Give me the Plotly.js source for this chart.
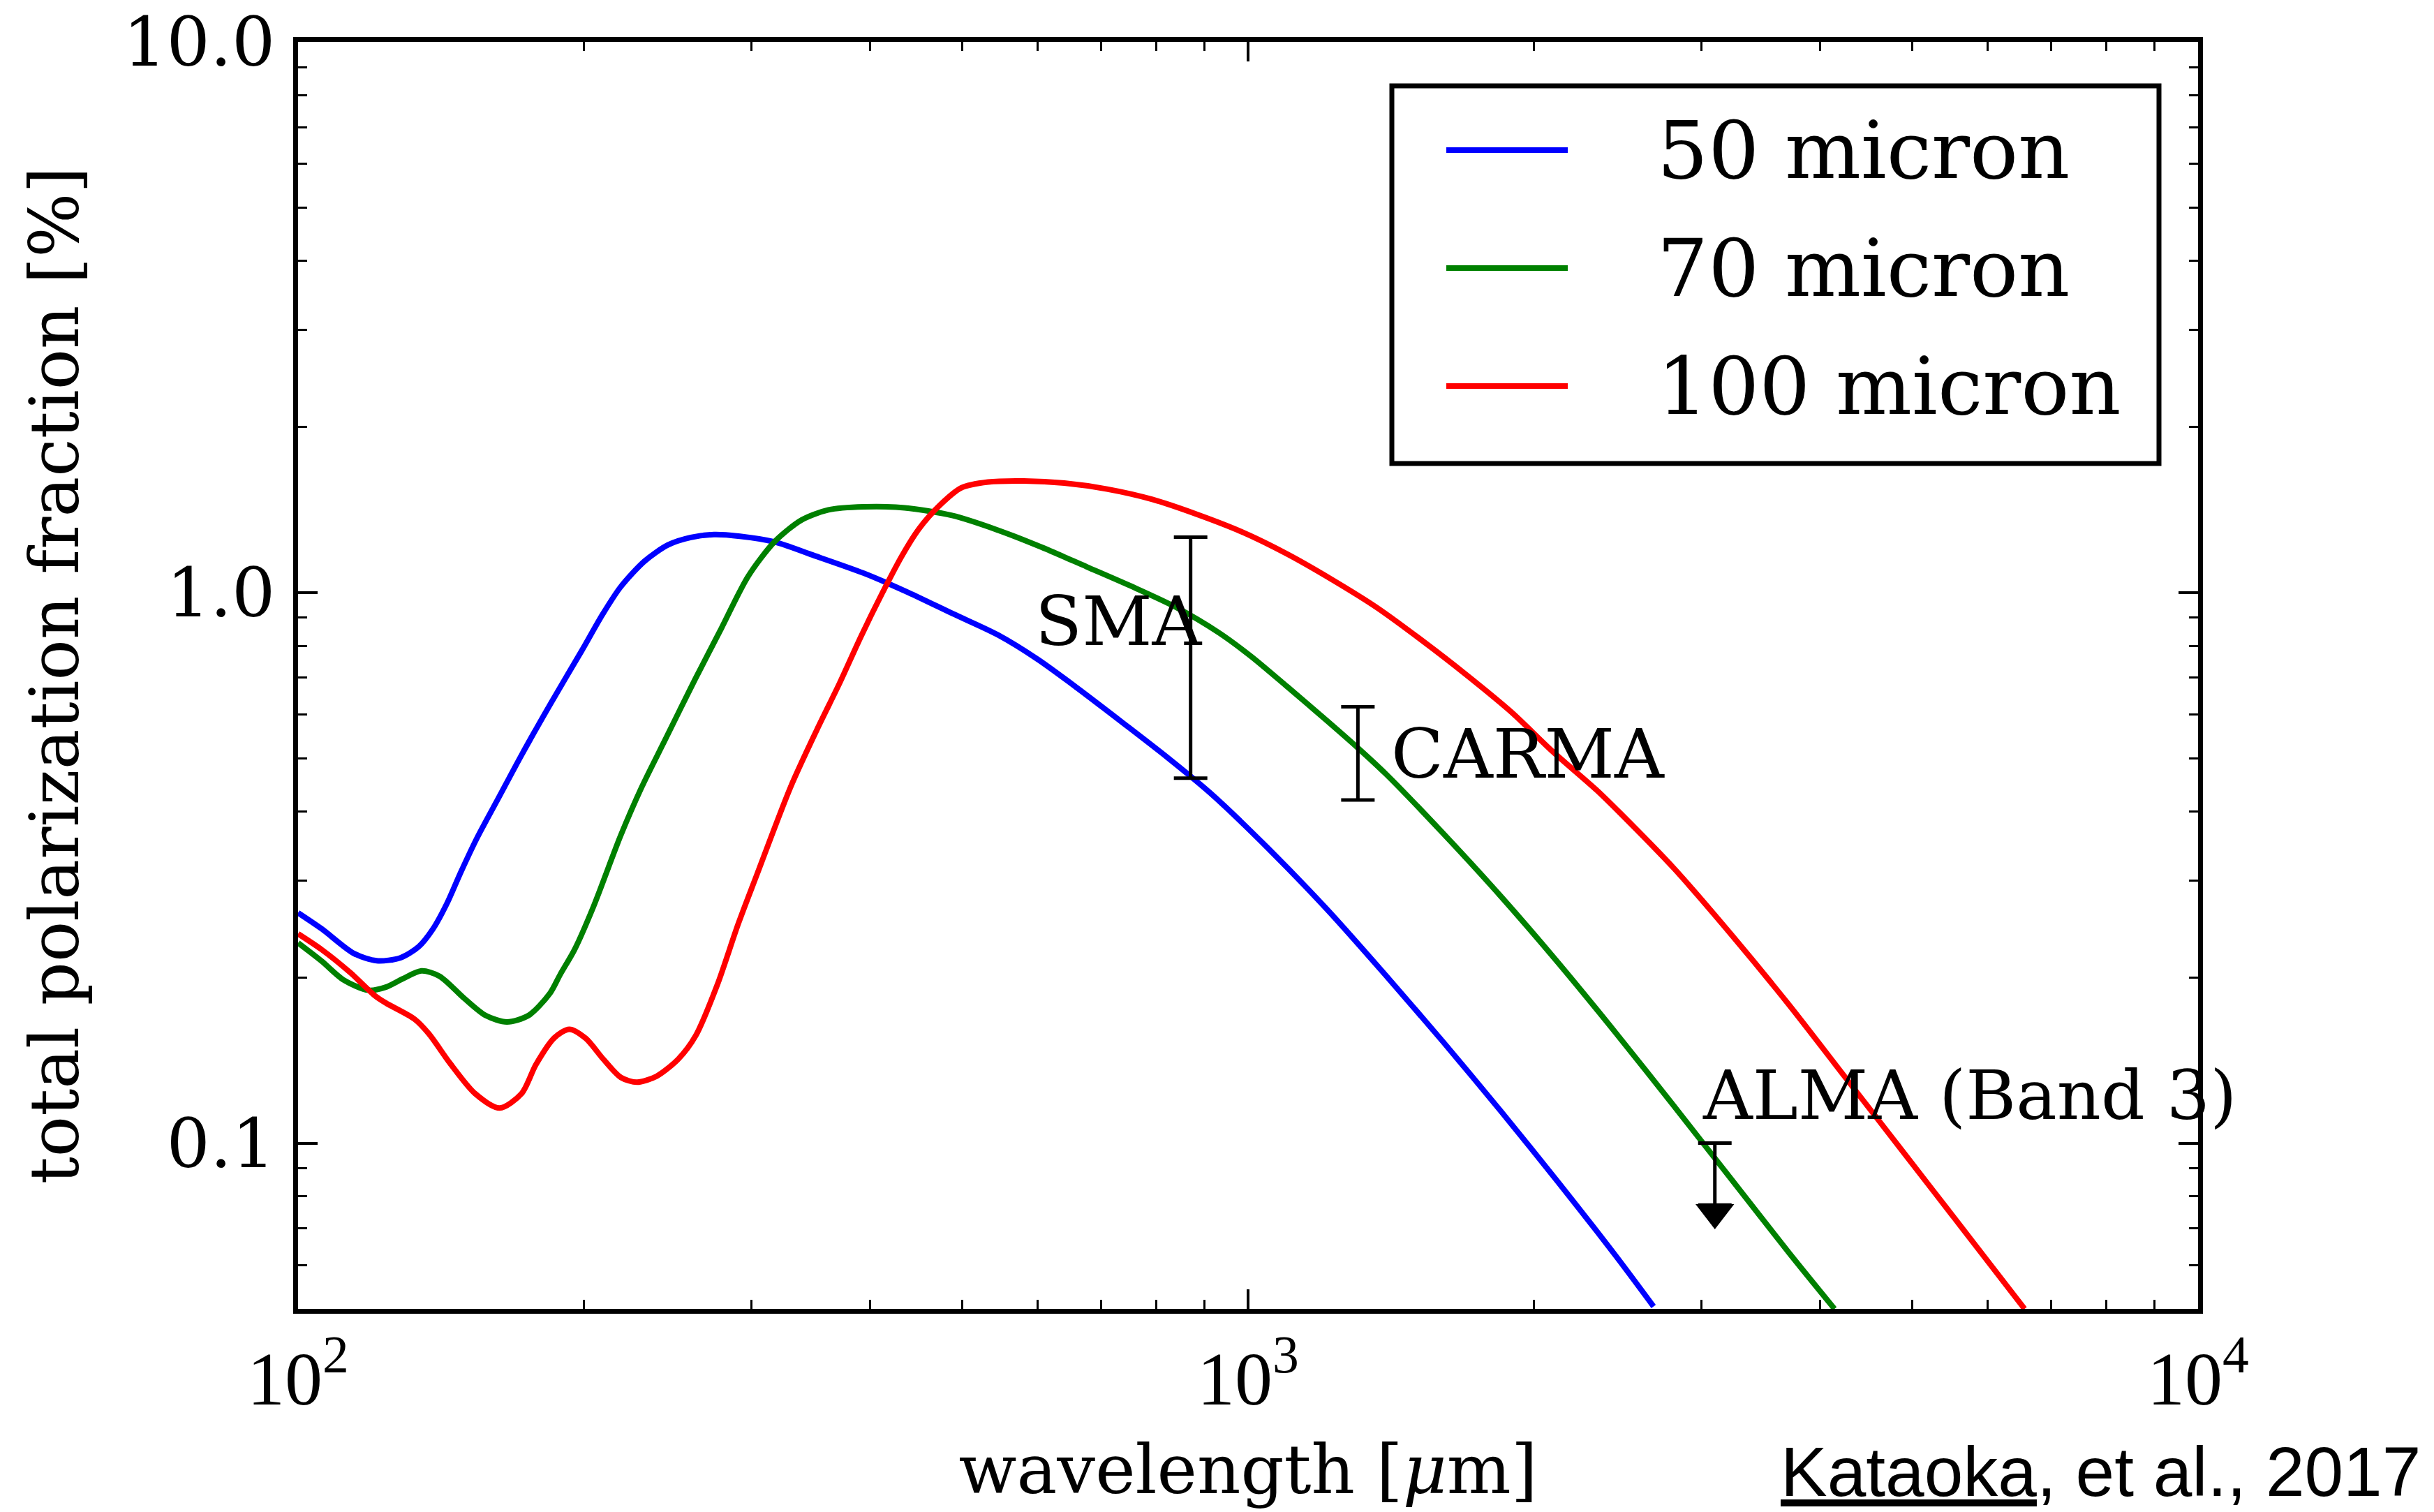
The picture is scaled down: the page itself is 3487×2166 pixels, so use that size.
<!DOCTYPE html>
<html>
<head>
<meta charset="utf-8">
<script src="https://cdn.plot.ly/plotly-3.0.1.min.js"></script>
<style>
  html, body { margin: 0; padding: 0; background: #ffffff; }
  #chart { width: 3487px; height: 2166px; }
</style>
</head>
<body>
<div id="chart"></div>
<script>
// Model curves: total polarization fraction [%] versus wavelength [um]
// for three maximum grain sizes.
const seriesNames = ['50 micron', '70 micron', '100 micron'];
const seriesColors = ['#0000ff', '#008000', '#ff0000'];

const wl50 = [100, 105.9, 114.5, 121, 128.1, 134, 138.6, 143.4, 148.3, 154.2, 162.4, 171.7, 184.9,
  198.9, 209.4, 218.6, 231.6, 245.1, 259.1, 274, 291.9, 317.6, 346.4, 394, 439, 489, 545, 600, 660, 740,
  822, 913, 1050, 1212, 1396, 1605, 1846, 2121, 2440, 2672];
const pol50 = [0.262, 0.245, 0.221, 0.2144, 0.217, 0.2275, 0.2445, 0.272, 0.310, 0.3574, 0.4222, 0.505, 0.633,
  0.784, 0.915, 1.024, 1.140, 1.220, 1.259, 1.274, 1.265, 1.235, 1.173, 1.084, 1.0, 0.915, 0.838, 0.757, 0.672, 0.578,
  0.502, 0.432, 0.343, 0.2653, 0.2017, 0.1526, 0.1142, 0.0849, 0.0623, 0.0505];

const wl70 = [100, 105.9, 111.6, 118.6, 123.7, 129.0, 134.9, 140.9, 149.7, 157.6, 165.9, 174.8,
  184.1, 188.8, 195.5, 204.6, 218.6, 230, 243.7, 261.5, 279, 297.7, 317.6, 339, 361.7, 394, 435,
  488, 544, 606, 676, 754, 840, 932, 1007, 1099, 1212, 1305, 1396, 1605, 1846, 2121, 2440, 2805,
  3224, 3708, 4143];
const pol70 = [0.231, 0.214, 0.198, 0.1895, 0.192, 0.199, 0.2055, 0.201, 0.183, 0.1705, 0.166, 0.1705,
  0.187, 0.2025, 0.2248, 0.2687, 0.362, 0.443, 0.542, 0.693, 0.861, 1.070, 1.238, 1.355, 1.413, 1.431, 1.425,
  1.38, 1.30, 1.209, 1.114, 1.026, 0.94, 0.845, 0.766, 0.675, 0.584, 0.522, 0.4685, 0.365, 0.2805, 0.2125, 0.1583, 0.117,
  0.0861, 0.0633, 0.050];

const wl100 = [100, 105.9, 113.5, 120.6, 123.7, 132.6, 137.3, 144.6, 153.6, 163, 171.9, 178, 186.1,
  193, 200.8, 209.6, 218.7, 227.4, 238.5, 251.2, 262.2, 276.3, 290.6, 303.9, 329.9, 351.8,
  371.5, 391.2, 412, 432.2, 450.8, 473.6, 499, 532.5, 580.8, 640.6, 710.5, 792.9, 884.1, 985.7,
  1099, 1225, 1365, 1522, 1697, 1892, 2093, 2330, 2463, 2805, 3224, 3708, 4265, 4906, 5641, 6567];
const pol100 = [0.240, 0.2246, 0.204, 0.185, 0.1797, 0.168, 0.158, 0.1395, 0.123, 0.1158, 0.123, 0.1389, 0.1553,
  0.161, 0.155, 0.142, 0.1316, 0.129, 0.1323, 0.142, 0.1568, 0.194, 0.250, 0.3065, 0.443, 0.564,
  0.684, 0.831, 0.997, 1.166, 1.308, 1.440, 1.549, 1.587, 1.594, 1.58, 1.541, 1.476, 1.386, 1.288,
  1.175, 1.056, 0.940, 0.820, 0.709, 0.607, 0.514, 0.437, 0.398, 0.316, 0.2395, 0.1785, 0.1308, 0.0958, 0.0702, 0.050];

// Observed polarization fractions with error bars
const obsNames = ['SMA', 'CARMA'];
const obsWavelength = [870, 1305];
const obsPol = [0.86, 0.52];
const obsErr = [0.40, 0.10];

// ALMA Band 3 upper limit
const almaName = 'ALMA (Band 3)';
const almaWavelength = 3100;
const almaLimit = 0.1;
const almaArrowBase = 0.0772;
const almaArrowTip = 0.0748;

// Axis ticks
const xTickVals = [100, 1000, 10000];
const xTickText = ['10<sup>2</sup>', '10<sup>3</sup>', '10<sup>4</sup>'];
const yTickVals = [0.1, 1, 10];
const yTickText = ['0.1', '1.0', '10.0'];

const serif = 'DejaVu Serif, Bitstream Vera Serif, serif';
const lineW = 8;

const curves = [[wl50, pol50], [wl70, pol70], [wl100, pol100]];
const traces = curves.map(([x, y], i) => ({
  type: 'scatter', mode: 'lines', x: x, y: y, name: seriesNames[i],
  line: { color: seriesColors[i], width: lineW, shape: 'spline', smoothing: 0.8 },
  hoverinfo: 'x+y+name'
}));

traces.push({
  type: 'scatter', mode: 'markers', x: obsWavelength, y: obsPol, name: 'observations',
  marker: { color: 'rgba(0,0,0,0)', size: 1 },
  error_y: { type: 'data', array: obsErr, visible: true, color: '#000', thickness: 5, width: 24 }
});

traces.push({
  type: 'scatter', mode: 'markers', x: [almaWavelength], y: [almaLimit], name: almaName,
  marker: { color: 'rgba(0,0,0,0)', size: 1 },
  error_y: { type: 'data', symmetric: false, array: [0], arrayminus: [almaLimit - almaArrowBase],
             visible: true, color: '#000', thickness: 5, width: 24 }
});
traces.push({
  type: 'scatter', mode: 'markers', x: [almaWavelength], y: [almaArrowTip], name: almaName,
  marker: { symbol: 'triangle-down', color: '#000', size: 48, line: { width: 0 } }
});

// Legend drawn inside the axes as a framed box
const plotL = 427, plotR = 3149, plotT = 60, plotB = 1875;
const px = X => (X - plotL) / (plotR - plotL);
const py = Y => (plotB - Y) / (plotB - plotT);
const legendRows = [215, 384, 553];

const shapes = [{
  type: 'rect', xref: 'paper', yref: 'paper',
  x0: px(1994), x1: px(3093), y0: py(664), y1: py(123),
  line: { color: '#000', width: 7 }, fillcolor: '#ffffff', layer: 'above'
}];
const annotations = [];
seriesNames.forEach((name, i) => {
  shapes.push({
    type: 'line', xref: 'paper', yref: 'paper',
    x0: px(2072), x1: px(2246), y0: py(legendRows[i]), y1: py(legendRows[i]),
    line: { color: seriesColors[i], width: lineW }, layer: 'above'
  });
  annotations.push({
    xref: 'paper', yref: 'paper', x: px(2372), y: py(legendRows[i]),
    xanchor: 'left', yanchor: 'middle', showarrow: false, text: name,
    font: { family: serif, size: 115, color: '#000' }
  });
});

// Instrument labels
annotations.push({
  x: Math.log10(898), y: Math.log10(0.887), xref: 'x', yref: 'y',
  xanchor: 'right', yanchor: 'middle', showarrow: false, text: obsNames[0],
  font: { family: serif, size: 98, color: '#000' }
});
annotations.push({
  x: Math.log10(1410), y: Math.log10(0.5085), xref: 'x', yref: 'y',
  xanchor: 'left', yanchor: 'middle', showarrow: false, text: obsNames[1],
  font: { family: serif, size: 98, color: '#000' }
});
annotations.push({
  x: Math.log10(3000), y: Math.log10(0.1223), xref: 'x', yref: 'y',
  xanchor: 'left', yanchor: 'middle', showarrow: false, text: almaName,
  font: { family: serif, size: 98, color: '#000' }
});

// Reference credit
annotations.push({
  xref: 'paper', yref: 'paper', x: px(3470), y: py(2108),
  xanchor: 'right', yanchor: 'middle', showarrow: false,
  text: '<u>Kataoka</u>, et al., 2017',
  font: { family: 'Liberation Sans, Arial, sans-serif', size: 100, color: '#000' }
});

const axisCommon = {
  type: 'log', showline: true, linewidth: 7, linecolor: '#000', mirror: 'allticks',
  ticks: 'inside', ticklen: 28, tickwidth: 4, tickcolor: '#000',
  showgrid: false, zeroline: false, tickmode: 'array',
  minor: { ticks: 'inside', ticklen: 13, tickwidth: 3, tickcolor: '#000', dtick: 'D1', showgrid: false }
};

const layout = {
  width: 3487, height: 2166,
  margin: { l: plotL, r: 3487 - plotR, t: plotT, b: 2166 - plotB },
  paper_bgcolor: '#ffffff', plot_bgcolor: '#ffffff',
  showlegend: false,
  font: { family: serif, color: '#000', size: 97 },
  xaxis: Object.assign({}, axisCommon, {
    range: [2, 4], tickvals: xTickVals, ticktext: xTickText,
    tickfont: { family: 'Liberation Serif, Times New Roman, serif', size: 108, color: '#000' },
    title: { text: 'wavelength [<i>μ</i>m]', font: { family: serif, size: 97, color: '#000' }, standoff: 40 }
  }),
  yaxis: Object.assign({}, axisCommon, {
    range: [Math.log10(0.05), 1], tickvals: yTickVals, ticktext: yTickText,
    ticklabelstandoff: 6,
    tickfont: { family: serif, size: 98, color: '#000' },
    title: { text: 'total polarization fraction [%]', font: { family: serif, size: 97, color: '#000' }, standoff: 34 }
  }),
  shapes: shapes,
  annotations: annotations
};

Plotly.newPlot('chart', traces, layout, { displayModeBar: false, staticPlot: true });
</script>
</body>
</html>
